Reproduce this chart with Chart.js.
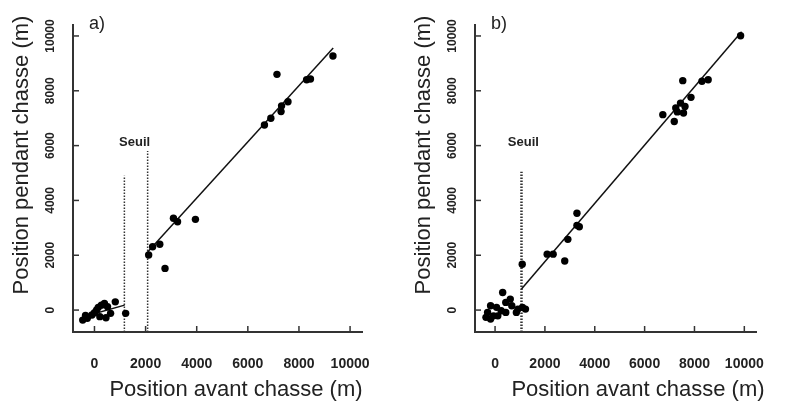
<!DOCTYPE html>
<html>
<head>
<meta charset="utf-8">
<script src="https://cdn.jsdelivr.net/npm/chart.js@4.4.1/dist/chart.umd.min.js"></script>
<style>
body { margin: 0; background: #fff; }
#wrap { position: relative; width: 788px; height: 402px; }
canvas { position: absolute; top: 0; }
</style>
</head>
<body>
<div id="wrap">
<canvas id="graphA" width="394" height="402" style="left:0"></canvas>
<canvas id="graphB" width="386" height="402" style="left:402px"></canvas>
</div>
<script>
const tickVals = [0, 2000, 4000, 6000, 8000, 10000];
const tickLabels = ['0', '2000', '4000', '6000', '8000', '10000'];
const xTitle = 'Position avant chasse (m)';
const yTitle = 'Position pendant chasse (m)';

// a) points sous le seuil / au-dessus
const aBasX = [-460, -350, -280, -100, 0, 85, 150, 210, 270, 390, 450, 510, 630, 815, 1220];
const aBasY = [-365, -200, -300, -180, -100, 0, 100, -240, 180, 245, -280, 120, -120, 300, -120];
const aHautX = [2120, 2275, 2555, 2760, 3090, 3250, 3950, 6650, 6900, 7140, 7300, 7320, 7570, 8300, 8450, 9330];
const aHautY = [2010, 2310, 2400, 1520, 3350, 3220, 3310, 6750, 7000, 8600, 7240, 7450, 7600, 8400, 8430, 9270];
const aDroiteBasX = [-400, 1180];
const aDroiteBasY = [-235, 180];
const aDroiteHautX = [2080, 9340];
const aDroiteHautY = [2120, 9560];
const aSeuilX = [1170, 2080];
const aSeuilHaut = [4900, 5800];

// b)
const bBasX = [-365, -300, -180, -180, -60, 60, 110, 245, 305, 430, 430, 610, 670, 855, 915, 1100, 1220];
const bBasY = [-265, -85, 155, -325, -210, 100, -210, -25, 640, 280, -85, 400, 155, -85, 35, 100, 35];
const bHautX = [1090, 2090, 2330, 2795, 2920, 3285, 3285, 3380, 6730, 7190, 7250, 7310, 7440, 7530, 7560, 7620, 7860, 8300, 8550, 9850];
const bHautY = [1670, 2040, 2040, 1790, 2580, 3530, 3090, 3040, 7130, 6880, 7370, 7230, 7550, 8370, 7190, 7430, 7760, 8350, 8400, 10010];
const bDroiteX = [1060, 9890];
const bDroiteY = [770, 10150];
const bSeuilX = [1060];
const bSeuilHaut = [5050];

const police = '"Liberation Sans", Arial, sans-serif';
const Y_MIN = -800, Y_MAX = 10400;

function pts(xs, ys) {
    return xs.map((x, i) => ({ x: x, y: ys[i] }));
}

const decor = {
    id: 'decor',
    afterDraw(chart, args, o) {
        const ctx = chart.ctx;
        const xs = chart.scales.x, ys = chart.scales.y;
        const area = chart.chartArea;
        ctx.save();
        ctx.strokeStyle = '#333';
        ctx.lineWidth = 1.5;
        tickVals.forEach(v => {
            const px = xs.getPixelForValue(v);
            ctx.beginPath(); ctx.moveTo(px, area.bottom); ctx.lineTo(px, area.bottom - 6); ctx.stroke();
            const py = ys.getPixelForValue(v);
            ctx.beginPath(); ctx.moveTo(area.left, py); ctx.lineTo(area.left + 6, py); ctx.stroke();
        });
        ctx.fillStyle = '#222';
        ctx.textAlign = 'center';
        ctx.textBaseline = 'middle';
        ctx.font = 'bold 12px ' + police;
        tickVals.forEach((v, i) => {
            ctx.save();
            ctx.translate(area.left - 22, ys.getPixelForValue(v));
            ctx.rotate(-Math.PI / 2);
            ctx.fillText(tickLabels[i], 0, 0);
            ctx.restore();
        });
        ctx.font = '22px ' + police;
        ctx.save();
        ctx.translate(area.left - 51, area.top + 130);
        ctx.rotate(-Math.PI / 2);
        ctx.fillText(yTitle, 0, 0);
        ctx.restore();
        ctx.fillText(xTitle, area.left + 163, area.bottom + 58);
        ctx.font = '18px ' + police;
        ctx.textAlign = 'left';
        ctx.fillText(o.lettre, area.left + 16, area.top - 1);
        ctx.font = 'bold 13px ' + police;
        ctx.textAlign = 'center';
        ctx.fillText('Seuil', xs.getPixelForValue(o.seuilX), ys.getPixelForValue(o.seuilY));
        ctx.restore();
    }
};

function graphe(id, cfg) {
    const datasets = [
        { data: pts(cfg.basX, cfg.basY) },
        { data: pts(cfg.hautX, cfg.hautY) }
    ];
    cfg.droites.forEach(d => {
        datasets.push({ data: pts(d[0], d[1]), showLine: true, pointRadius: 0, borderColor: '#111', borderWidth: 1.5 });
    });
    cfg.seuilX.forEach((sx, i) => {
        datasets.push({
            data: [{ x: sx, y: Y_MIN }, { x: sx, y: cfg.seuilHaut[i] }],
            showLine: true, pointRadius: 0, borderColor: '#333',
            borderWidth: cfg.seuilEpais, borderDash: [1.5, 1.5]
        });
    });
    datasets.forEach(ds => {
        if (ds.pointRadius === undefined) {
            ds.pointRadius = 3.7;
            ds.pointBackgroundColor = '#000';
            ds.pointBorderWidth = 0;
        }
    });

    new Chart(document.getElementById(id), {
        type: 'scatter',
        data: { datasets: datasets },
        options: {
            responsive: false,
            animation: false,
            layout: { padding: { top: 25, right: cfg.droite, left: 0, bottom: 0 } },
            plugins: {
                legend: { display: false },
                tooltip: { enabled: false },
                decor: { lettre: cfg.lettre, seuilX: cfg.texteX, seuilY: 6100 }
            },
            scales: {
                x: {
                    type: 'linear',
                    min: cfg.xMin,
                    max: cfg.xMax,
                    afterBuildTicks: s => { s.ticks = tickVals.map(v => ({ value: v })); },
                    afterFit: s => { s.height = 70; },
                    grid: { display: false, drawTicks: false },
                    border: { display: true, color: '#333', width: 2 },
                    ticks: {
                        padding: 24,
                        color: '#222',
                        font: { family: police, size: 14, weight: 'bold' },
                        maxRotation: 0,
                        callback: v => tickLabels[tickVals.indexOf(v)]
                    },
                    title: { display: false }
                },
                y: {
                    type: 'linear',
                    min: Y_MIN,
                    max: Y_MAX,
                    afterBuildTicks: s => { s.ticks = tickVals.map(v => ({ value: v })); },
                    afterFit: s => { s.width = 73; },
                    grid: { display: false, drawTicks: false },
                    border: { display: true, color: '#333', width: 2 },
                    ticks: { display: false }
                }
            }
        },
        plugins: [decor]
    });
}

graphe('graphA', {
    lettre: 'a)',
    basX: aBasX, basY: aBasY, hautX: aHautX, hautY: aHautY,
    droites: [[aDroiteBasX, aDroiteBasY], [aDroiteHautX, aDroiteHautY]],
    seuilX: aSeuilX, seuilHaut: aSeuilHaut, seuilEpais: 1.5,
    texteX: 1570,
    xMin: -840, xMax: 10470, droite: 11
});

graphe('graphB', {
    lettre: 'b)',
    basX: bBasX, basY: bBasY, hautX: bHautX, hautY: bHautY,
    droites: [[bDroiteX, bDroiteY]],
    seuilX: bSeuilX, seuilHaut: bSeuilHaut, seuilEpais: 2.5,
    texteX: 1135,
    xMin: -805, xMax: 10475, droite: 5
});
</script>
</body>
</html>
